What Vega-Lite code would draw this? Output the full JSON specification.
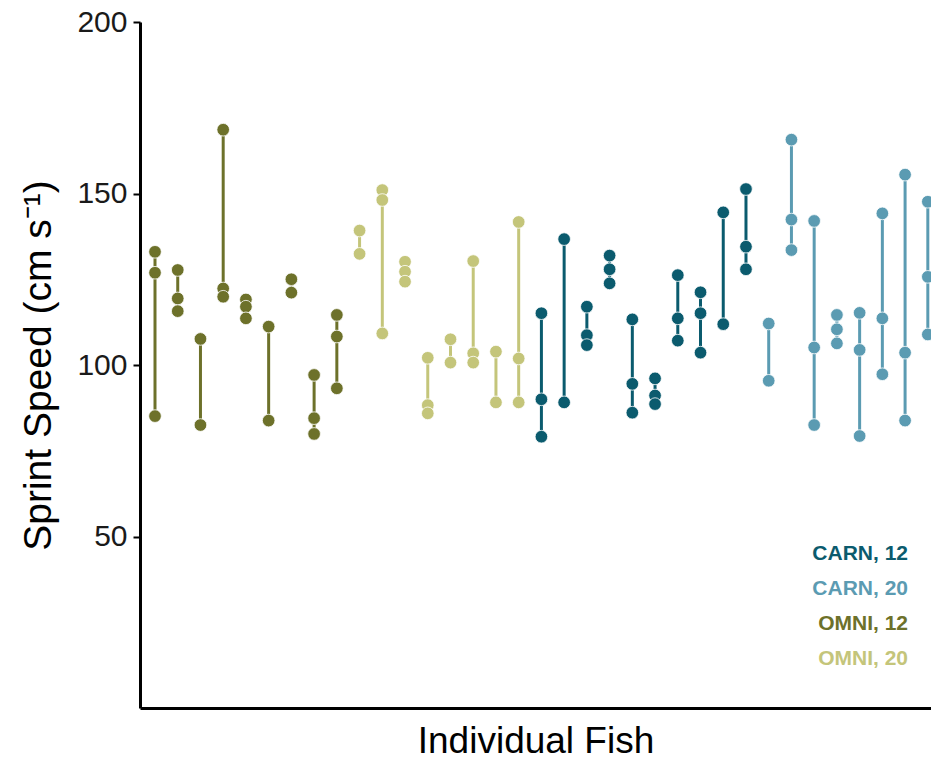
{
  "$schema": "https://vega.github.io/schema/vega-lite/v6.json",
  "width": 791,
  "height": 686,
  "autosize": {"type": "none"},
  "padding": {"left": 140, "top": 22, "right": 0, "bottom": 51},
  "background": "white",
  "config": {"view": {"stroke": null}, "font": "Liberation Sans"},
  "datasets": {
    "fish": [
      {"fish": 1, "group": "OMNI, 12", "speed": 133.0},
      {"fish": 1, "group": "OMNI, 12", "speed": 126.9},
      {"fish": 1, "group": "OMNI, 12", "speed": 85.1},
      {"fish": 2, "group": "OMNI, 12", "speed": 127.7},
      {"fish": 2, "group": "OMNI, 12", "speed": 119.4},
      {"fish": 2, "group": "OMNI, 12", "speed": 115.7},
      {"fish": 3, "group": "OMNI, 12", "speed": 107.6},
      {"fish": 3, "group": "OMNI, 12", "speed": 82.5},
      {"fish": 4, "group": "OMNI, 12", "speed": 168.6},
      {"fish": 4, "group": "OMNI, 12", "speed": 122.3},
      {"fish": 4, "group": "OMNI, 12", "speed": 119.9},
      {"fish": 5, "group": "OMNI, 12", "speed": 119.1},
      {"fish": 5, "group": "OMNI, 12", "speed": 117.0},
      {"fish": 5, "group": "OMNI, 12", "speed": 113.6},
      {"fish": 6, "group": "OMNI, 12", "speed": 111.2},
      {"fish": 6, "group": "OMNI, 12", "speed": 83.8},
      {"fish": 7, "group": "OMNI, 12", "speed": 125.0},
      {"fish": 7, "group": "OMNI, 12", "speed": 121.1},
      {"fish": 8, "group": "OMNI, 12", "speed": 97.1},
      {"fish": 8, "group": "OMNI, 12", "speed": 84.5},
      {"fish": 8, "group": "OMNI, 12", "speed": 79.9},
      {"fish": 9, "group": "OMNI, 12", "speed": 114.6},
      {"fish": 9, "group": "OMNI, 12", "speed": 108.3},
      {"fish": 9, "group": "OMNI, 12", "speed": 93.2},
      {"fish": 10, "group": "OMNI, 20", "speed": 139.2},
      {"fish": 10, "group": "OMNI, 20", "speed": 132.4},
      {"fish": 11, "group": "OMNI, 20", "speed": 151.0},
      {"fish": 11, "group": "OMNI, 20", "speed": 148.1},
      {"fish": 11, "group": "OMNI, 20", "speed": 109.2},
      {"fish": 12, "group": "OMNI, 20", "speed": 130.1},
      {"fish": 12, "group": "OMNI, 20", "speed": 127.2},
      {"fish": 12, "group": "OMNI, 20", "speed": 124.3},
      {"fish": 13, "group": "OMNI, 20", "speed": 102.1},
      {"fish": 13, "group": "OMNI, 20", "speed": 88.3},
      {"fish": 13, "group": "OMNI, 20", "speed": 85.9},
      {"fish": 14, "group": "OMNI, 20", "speed": 107.5},
      {"fish": 14, "group": "OMNI, 20", "speed": 100.7},
      {"fish": 15, "group": "OMNI, 20", "speed": 130.3},
      {"fish": 15, "group": "OMNI, 20", "speed": 103.4},
      {"fish": 15, "group": "OMNI, 20", "speed": 100.7},
      {"fish": 16, "group": "OMNI, 20", "speed": 103.9},
      {"fish": 16, "group": "OMNI, 20", "speed": 89.1},
      {"fish": 17, "group": "OMNI, 20", "speed": 141.7},
      {"fish": 17, "group": "OMNI, 20", "speed": 101.9},
      {"fish": 17, "group": "OMNI, 20", "speed": 89.1},
      {"fish": 18, "group": "CARN, 12", "speed": 115.1},
      {"fish": 18, "group": "CARN, 12", "speed": 90.0},
      {"fish": 18, "group": "CARN, 12", "speed": 79.1},
      {"fish": 19, "group": "CARN, 12", "speed": 136.7},
      {"fish": 19, "group": "CARN, 12", "speed": 89.1},
      {"fish": 20, "group": "CARN, 12", "speed": 117.0},
      {"fish": 20, "group": "CARN, 12", "speed": 108.7},
      {"fish": 20, "group": "CARN, 12", "speed": 105.8},
      {"fish": 21, "group": "CARN, 12", "speed": 131.9},
      {"fish": 21, "group": "CARN, 12", "speed": 127.9},
      {"fish": 21, "group": "CARN, 12", "speed": 123.8},
      {"fish": 22, "group": "CARN, 12", "speed": 113.3},
      {"fish": 22, "group": "CARN, 12", "speed": 94.5},
      {"fish": 22, "group": "CARN, 12", "speed": 86.1},
      {"fish": 23, "group": "CARN, 12", "speed": 96.1},
      {"fish": 23, "group": "CARN, 12", "speed": 91.1},
      {"fish": 23, "group": "CARN, 12", "speed": 88.6},
      {"fish": 24, "group": "CARN, 12", "speed": 126.2},
      {"fish": 24, "group": "CARN, 12", "speed": 113.6},
      {"fish": 24, "group": "CARN, 12", "speed": 107.1},
      {"fish": 25, "group": "CARN, 12", "speed": 121.2},
      {"fish": 25, "group": "CARN, 12", "speed": 115.1},
      {"fish": 25, "group": "CARN, 12", "speed": 103.6},
      {"fish": 26, "group": "CARN, 12", "speed": 144.5},
      {"fish": 26, "group": "CARN, 12", "speed": 111.9},
      {"fish": 27, "group": "CARN, 12", "speed": 151.3},
      {"fish": 27, "group": "CARN, 12", "speed": 134.5},
      {"fish": 27, "group": "CARN, 12", "speed": 127.9},
      {"fish": 28, "group": "CARN, 20", "speed": 112.1},
      {"fish": 28, "group": "CARN, 20", "speed": 95.4},
      {"fish": 29, "group": "CARN, 20", "speed": 165.7},
      {"fish": 29, "group": "CARN, 20", "speed": 142.4},
      {"fish": 29, "group": "CARN, 20", "speed": 133.5},
      {"fish": 30, "group": "CARN, 20", "speed": 142.0},
      {"fish": 30, "group": "CARN, 20", "speed": 105.1},
      {"fish": 30, "group": "CARN, 20", "speed": 82.5},
      {"fish": 31, "group": "CARN, 20", "speed": 114.6},
      {"fish": 31, "group": "CARN, 20", "speed": 110.4},
      {"fish": 31, "group": "CARN, 20", "speed": 106.3},
      {"fish": 32, "group": "CARN, 20", "speed": 115.2},
      {"fish": 32, "group": "CARN, 20", "speed": 104.4},
      {"fish": 32, "group": "CARN, 20", "speed": 79.3},
      {"fish": 33, "group": "CARN, 20", "speed": 144.2},
      {"fish": 33, "group": "CARN, 20", "speed": 113.6},
      {"fish": 33, "group": "CARN, 20", "speed": 97.3},
      {"fish": 34, "group": "CARN, 20", "speed": 155.5},
      {"fish": 34, "group": "CARN, 20", "speed": 103.6},
      {"fish": 34, "group": "CARN, 20", "speed": 83.8},
      {"fish": 35, "group": "CARN, 20", "speed": 147.6},
      {"fish": 35, "group": "CARN, 20", "speed": 125.7},
      {"fish": 35, "group": "CARN, 20", "speed": 108.9}
    ],
    "key": [
      {"fish": 34.13, "speed": 45.0, "group": "CARN, 12"},
      {"fish": 34.13, "speed": 34.7, "group": "CARN, 20"},
      {"fish": 34.13, "speed": 24.6, "group": "OMNI, 12"},
      {"fish": 34.13, "speed": 14.4, "group": "OMNI, 20"}
    ]
  },
  "layer": [
    {
      "data": {"name": "fish"},
      "mark": {"type": "rule", "strokeWidth": 3, "clip": true},
      "encoding": {
        "x": {
          "field": "fish",
          "type": "quantitative",
          "scale": {"domain": [0.34, 35.14], "nice": false, "zero": false},
          "axis": {
            "title": "Individual Fish",
            "labels": false,
            "ticks": false,
            "grid": false,
            "domainColor": "black",
            "domainWidth": 3,
            "titleFontSize": 37,
            "titleFontWeight": "normal",
            "titleColor": "black",
            "titlePadding": 15
          }
        },
        "y": {
          "aggregate": "min",
          "field": "speed",
          "type": "quantitative",
          "scale": {"domain": [0, 200], "nice": false, "zero": false},
          "axis": {
            "title": "Sprint Speed (cm s⁻¹)",
            "values": [50, 100, 150, 200],
            "grid": false,
            "domainColor": "black",
            "domainWidth": 3,
            "tickColor": "black",
            "tickWidth": 2,
            "tickSize": 7,
            "labelFontSize": 30,
            "labelColor": "#1a1a1a",
            "labelPadding": 6,
            "titleFontSize": 39,
            "titleFontWeight": "normal",
            "titleColor": "black",
            "titlePadding": 18
          }
        },
        "y2": {"aggregate": "max", "field": "speed"},
        "color": {
          "field": "group",
          "type": "nominal",
          "scale": {
            "domain": ["CARN, 12", "CARN, 20", "OMNI, 12", "OMNI, 20"],
            "range": ["#0b5b6e", "#5b9bb2", "#6d712a", "#c4c57a"]
          },
          "legend": null
        }
      }
    },
    {
      "data": {"name": "fish"},
      "mark": {"type": "circle", "size": 160, "opacity": 1, "stroke": "white", "strokeWidth": 0.8, "clip": true},
      "encoding": {
        "x": {"field": "fish", "type": "quantitative"},
        "y": {"field": "speed", "type": "quantitative"},
        "color": {"field": "group", "type": "nominal", "legend": null}
      }
    },
    {
      "data": {"name": "key"},
      "mark": {"type": "text", "align": "right", "baseline": "middle", "fontSize": 21, "fontWeight": "bold"},
      "encoding": {
        "x": {"field": "fish", "type": "quantitative"},
        "y": {"field": "speed", "type": "quantitative"},
        "text": {"field": "group"},
        "color": {"field": "group", "type": "nominal", "legend": null}
      }
    }
  ]
}
